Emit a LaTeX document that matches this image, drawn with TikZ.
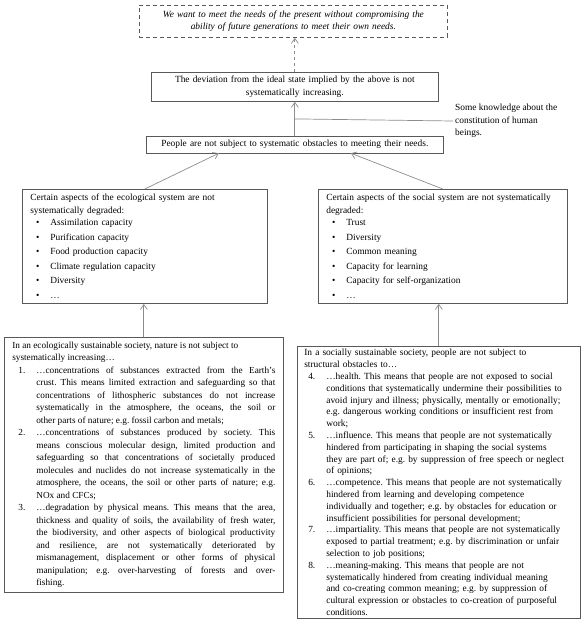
\documentclass[tikz,border=0pt]{standalone}
\usepackage{fontspec}
\setmainfont{Liberation Serif}
\usetikzlibrary{arrows.meta,positioning,calc}

\newcommand{\boxfont}{\fontsize{9.4}{12.5}\selectfont\frenchspacing}
\newenvironment{aspectlist}{\begin{list}{\textbullet}{%
  \setlength{\leftmargin}{20pt}\setlength{\labelwidth}{4pt}\setlength{\labelsep}{11pt}%
  \setlength{\itemsep}{2pt}\setlength{\parsep}{0pt}\setlength{\topsep}{0pt}\setlength{\partopsep}{0pt}}}%
  {\end{list}}
\newenvironment{condlist}[2]{\begin{list}{\arabic{enumi}.}{\usecounter{enumi}\setcounter{enumi}{#1}%
  \setlength{\leftmargin}{#2}\setlength{\labelwidth}{9pt}\setlength{\labelsep}{11pt}%
  \setlength{\itemsep}{0pt}\setlength{\parsep}{0pt}\setlength{\topsep}{0pt}\setlength{\partopsep}{0pt}}}%
  {\end{list}}

\begin{document}
\begin{tikzpicture}[
  x=1pt, y=-1pt,
  >={Straight Barb[length=5pt,width=7pt]},
  every node/.style={font=\boxfont, text=black},
  box/.style={draw=black!65, line width=0.65pt, anchor=north west, inner xsep=7pt, inner ysep=4pt},
  link/.style={->, draw=black!45, line width=0.7pt},
  rule/.style={draw=black!45, line width=0.7pt}
]
\useasboundingbox (0,0) rectangle (585,630);

\node[box, dashed, dash pattern=on 4pt off 3pt, align=center, text width=294pt, inner ysep=5.5pt, font=\boxfont\itshape] (goal) at (139,5)
  {We want to meet the needs of the present without compromising the\\ability of future generations to meet their own needs.};
\node[box, align=center, text width=273pt] (dev) at (151,72)
  {The deviation from the ideal state implied by the above is not\\systematically increasing.};
\node[box, align=center, text width=283pt] (people) at (146,136)
  {People are not subject to systematic obstacles to meeting their needs.};
\node[anchor=west, align=left, inner sep=2pt] (know) at (453,121)
  {Some knowledge about the\\constitution of human\\beings.};

\node[box, inner xsep=8pt, inner ysep=5pt, text width=229pt] (eco) at (22,189) {\raggedright
  Certain aspects of the ecological system are not\\systematically degraded:
  \begin{aspectlist}
  \item Assimilation capacity
  \item Purification capacity
  \item Food production capacity
  \item Climate regulation capacity
  \item Diversity
  \item …
  \end{aspectlist}};
\node[box, inner xsep=8pt, inner ysep=5pt, text width=233pt] (soc) at (318,189) {\raggedright
  Certain aspects of the social system are not systematically\\degraded:
  \begin{aspectlist}
  \item Trust
  \item Diversity
  \item Common meaning
  \item Capacity for learning
  \item Capacity for self-organization
  \item …
  \end{aspectlist}};

\node[box, align=justify, inner xsep=8pt, inner ysep=4.5pt, text width=263pt, font=\fontsize{9.25}{12.5}\selectfont\frenchspacing] (ecosoc) at (4,337) {%
  {\raggedright In an ecologically sustainable society, nature is not subject to\\systematically increasing…\par}
  \begin{condlist}{0}{24pt}
  \item …concentrations of substances extracted from the Earth’s\linebreak
    crust. This means limited extraction and safeguarding so that\linebreak
    concentrations of lithospheric substances do not increase\linebreak
    systematically in the atmosphere, the oceans, the soil or\linebreak
    other parts of nature; e.g. fossil carbon and metals;
  \item …concentrations of substances produced by society. This\linebreak
    means conscious molecular design, limited production and\linebreak
    safeguarding so that concentrations of societally produced\linebreak
    molecules and nuclides do not increase systematically in the\linebreak
    atmosphere, the oceans, the soil or other parts of nature; e.g.\linebreak
    NOx and CFCs;
  \item …degradation by physical means. This means that the area,\linebreak
    thickness and quality of soils, the availability of fresh water,\linebreak
    the biodiversity, and other aspects of biological productivity\linebreak
    and resilience, are not systematically deteriorated by\linebreak
    mismanagement, displacement or other forms of physical\linebreak
    manipulation; e.g. over-harvesting of forests and over-\linebreak
    fishing.
  \end{condlist}};
\node[box, inner ysep=3pt, text width=269pt, font=\fontsize{9.4}{11.8}\selectfont\frenchspacing] (socsoc) at (297,346) {\raggedright
  In a socially sustainable society, people are not subject to\\structural obstacles to…
  \begin{condlist}{3}{22pt}
  \item …health. This means that people are not exposed to social\\
    conditions that systematically undermine their possibilities to\\
    avoid injury and illness; physically, mentally or emotionally;\\
    e.g. dangerous working conditions or insufficient rest from\\
    work;
  \item …influence. This means that people are not systematically\\
    hindered from participating in shaping the social systems\\
    they are part of; e.g. by suppression of free speech or neglect\\
    of opinions;
  \item …competence. This means that people are not systematically\\
    hindered from learning and developing competence\\
    individually and together; e.g. by obstacles for education or\\
    insufficient possibilities for personal development;
  \item …impartiality. This means that people are not systematically\\
    exposed to partial treatment; e.g. by discrimination or unfair\\
    selection to job positions;
  \item …meaning-making. This means that people are not\\
    systematically hindered from creating individual meaning\\
    and co-creating common meaning; e.g. by suppression of\\
    cultural expression or obstacles to co-creation of purposeful\\
    conditions.
  \end{condlist}};

\coordinate (split) at ($(people.north)!0.5!(dev.south)$);
\draw[link, dashed] (dev.north) -- (dev.north |- goal.south);
\draw[link] (people.north) -- (people.north |- dev.south);
\draw[rule] (split) -- (know.west);
\draw[link] (eco.north) -- ($(people.south)+(-76,0)$);
\draw[link] (soc.north) -- ($(people.south)+(56,0)$);
\draw[link] (ecosoc.north) -- (ecosoc.north |- eco.south);
\draw[link] (socsoc.north) -- (socsoc.north |- soc.south);
\end{tikzpicture}
\end{document}
